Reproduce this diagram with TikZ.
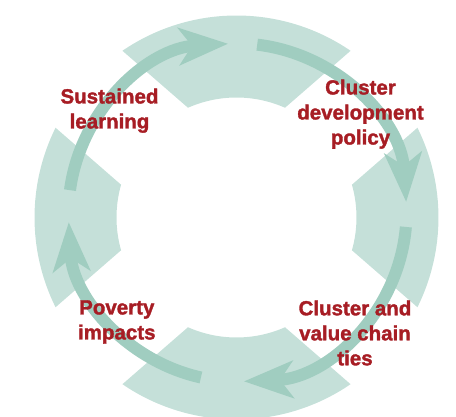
\documentclass[tikz,border=0pt]{standalone}
\usepackage{fontspec}
\setmainfont{Liberation Sans}
\newfontfamily\heavyfont{Liberation Sans Bold}[FakeBold=1.6]
\usepackage{xcolor}
\usetikzlibrary{arrows.meta}

\definecolor{ringfill}{RGB}{197,224,217}
\definecolor{flowgreen}{RGB}{160,205,192}
\definecolor{labelred}{RGB}{167,29,36}

\begin{document}
\begin{tikzpicture}[
  x=1pt, y=1pt,
  seg/.style={fill=ringfill},
  flow/.style={draw=flowgreen, line width=12pt,
               -{Stealth[length=49pt, width=37pt, inset=13pt]}},
  lbl/.style={text=labelred, align=center, inner sep=0pt,
              font=\fontsize{20.5}{25}\selectfont\heavyfont}
]
\useasboundingbox (-236.5,-199.5) rectangle (219.5,217.5);
%% ring split into four pieces (outer r=202, inner r=120)
%% mid angle / outer half span / inner half span
\foreach \m/\a/\b in {90/34.38/23.85, 0/26.38/15.85, -90/34.38/23.85, 180/26.38/15.85}
  \fill[seg] ({\m-\a}:202) arc[start angle={\m-\a}, end angle={\m+\a}, radius=202]
    -- ({\m+\b}:120) arc[start angle={\m+\b}, end angle={\m-\b}, radius=120] -- cycle;
%% arrow circle centre
\coordinate (hub) at (1,5);
%% the four curved arrows, clockwise
\draw[flow] (hub) ++(83.3:169)   arc[start angle=83.3,   end angle=3.6,    radius=169];
\draw[flow] (hub) ++(-4.9:169)   arc[start angle=-4.9,   end angle=-87.8,  radius=169];
\draw[flow] (hub) ++(-102.5:169) arc[start angle=-102.5, end angle=-176.7, radius=169];
\draw[flow] (hub) ++(172.4:169)  arc[start angle=172.4,  end angle=93.2,   radius=169];
%% labels
\node[lbl] (learn)   at (-127,106.8)  {Sustained\\learning};
\node[lbl] (policy)  at (124,103.3)   {Cluster\\development\\policy};
\node[lbl] (poverty) at (-119.7,-104.5) {Poverty\\impacts};
\node[lbl] (chain)   at (118.5,-115.5) {Cluster and\\value chain\\ties};
\end{tikzpicture}
\end{document}
